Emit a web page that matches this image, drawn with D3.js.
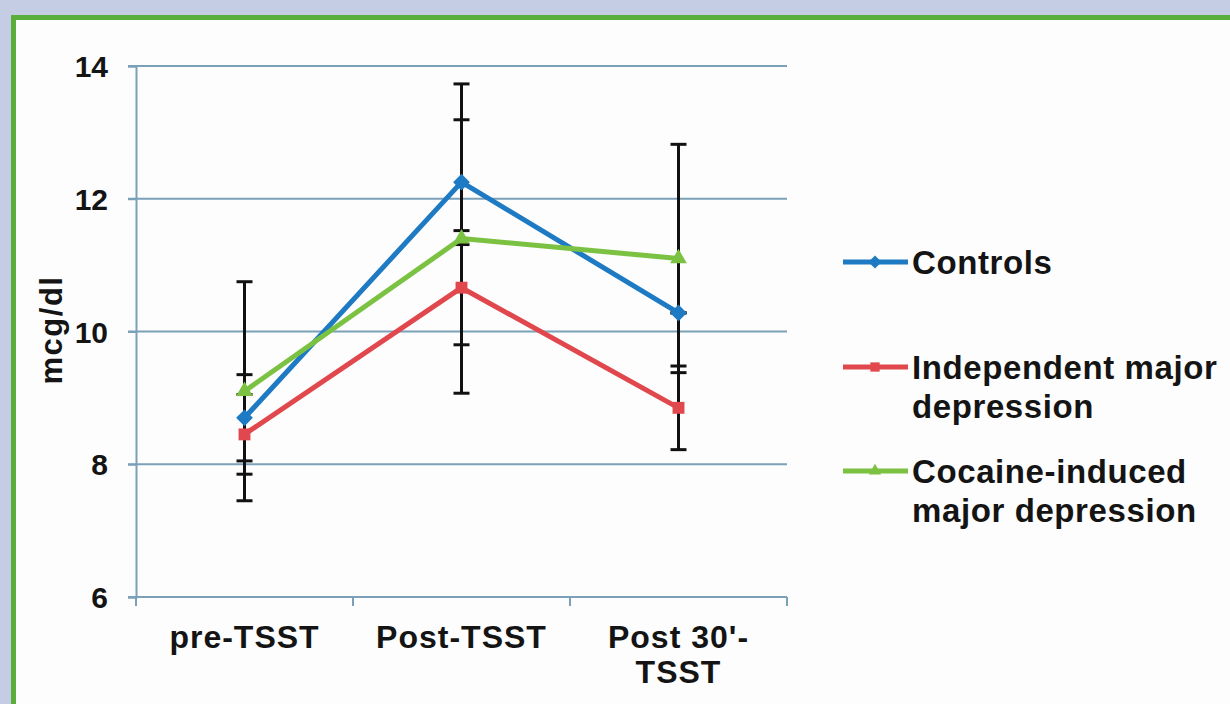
<!DOCTYPE html>
<html><head><meta charset="utf-8">
<script src="https://cdn.jsdelivr.net/npm/d3@7"></script>
<style>html,body{margin:0;padding:0;background:#c5cde5;}svg{display:block;}</style>
</head><body>
<script>
const categories = ["pre-TSST", "Post-TSST", "Post 30'-TSST"];
const categoryLines = [["pre-TSST"], ["Post-TSST"], ["Post 30'-", "TSST"]];
const seriesNames = ["Controls", "Independent major depression", "Cocaine-induced major depression"];
const legendLines = [["Controls"], ["Independent major", "depression"], ["Cocaine-induced", "major depression"]];
const controls = [8.7, 12.25, 10.28];
const independent = [8.45, 10.66, 8.85];
const cocaine = [9.1, 11.4, 11.1];
const errControls = [0.65, 0.94, 0];
const errIndependent = [0.6, 0.86, 0.63];
const errCocaine = [1.65, 2.33, 1.72];
const yTicks = [6, 8, 10, 12, 14];
const yTitle = "mcg/dl";

const colors = ["#1e7bc3", "#e0484d", "#7cc242"];
const shapes = [d3.symbolDiamond2, d3.symbolSquare2, d3.symbolTriangle2];
const series = [
  {name: seriesNames[0], values: controls, err: errControls},
  {name: seriesNames[1], values: independent, err: errIndependent},
  {name: seriesNames[2], values: cocaine, err: errCocaine}
];

const W = 1230, H = 704;
const svg = d3.select("body").append("svg").attr("width", W).attr("height", H);
svg.append("rect").attr("width", W).attr("height", H).attr("fill", "#c5cde5");
svg.append("rect").attr("x", 11).attr("y", 15).attr("width", W - 11).attr("height", H - 15).attr("fill", "#5aae3c");
svg.append("rect").attr("x", 16).attr("y", 20).attr("width", W - 16).attr("height", H - 20).attr("fill", "#fdfdfd");

const x = d3.scaleBand().domain(categories).range([136, 787]);
const cx = c => x(c) + x.bandwidth() / 2;
const y = d3.scaleLinear().domain([6, 14]).range([597, 66]);
const axisColor = "#7aa1b8";
const font = "'Liberation Sans', Arial, sans-serif";
const ink = "#141414";

// gridlines
const grid = svg.append("g");
grid.selectAll("line").data(yTicks.filter(t => t > 6)).join("line")
  .attr("x1", 128).attr("x2", 787).attr("y1", d => y(d)).attr("y2", d => y(d))
  .attr("stroke", axisColor).attr("stroke-width", 2);

// y axis
const yAxis = svg.append("g").attr("transform", "translate(136,0)")
  .call(d3.axisLeft(y).tickValues(yTicks).tickSize(8).tickPadding(20).tickFormat(d3.format("d")));
yAxis.select(".domain").attr("stroke", axisColor).attr("stroke-width", 2);
yAxis.selectAll(".tick line").attr("stroke", axisColor).attr("stroke-width", 2);
yAxis.selectAll(".tick text").attr("font-family", font).attr("font-weight", "bold")
  .attr("font-size", 30).attr("fill", ink).attr("dy", "0.35em");

// x axis
const xAxis = svg.append("g").attr("transform", "translate(0,597)")
  .call(d3.axisBottom(x).tickSize(0).tickFormat(""));
xAxis.select(".domain").attr("stroke", axisColor).attr("stroke-width", 2).attr("d", "M128,0H787");
const xt = [136].concat(categories.map(c => x(c) + x.bandwidth()));
svg.append("g").selectAll("line").data(xt).join("line")
  .attr("x1", d => d).attr("x2", d => d).attr("y1", 597).attr("y2", 606)
  .attr("stroke", axisColor).attr("stroke-width", 2);
const xl = svg.append("g");
categories.forEach((c, i) => {
  const t = xl.append("text").attr("x", cx(c)).attr("y", 648).attr("text-anchor", "middle")
    .attr("font-family", font).attr("font-weight", "bold").attr("font-size", 32)
    .attr("letter-spacing", 1).attr("fill", ink);
  categoryLines[i].forEach((ln, j) => t.append("tspan").attr("x", cx(c)).attr("dy", j === 0 ? 0 : 35).text(ln));
});

// y title
svg.append("text").attr("transform", "translate(62,330) rotate(-90)").attr("text-anchor", "middle")
  .attr("font-family", font).attr("font-weight", "bold").attr("font-size", 31)
  .attr("letter-spacing", 1.5).attr("fill", ink).text(yTitle);

// error bars
const eb = svg.append("g");
series.forEach(s => {
  s.values.forEach((v, i) => {
    const e = s.err[i];
    const px = cx(categories[i]);
    eb.append("line").attr("x1", px).attr("x2", px).attr("y1", y(v - e)).attr("y2", y(v + e))
      .attr("stroke", "#111").attr("stroke-width", 3);
    [v - e, v + e].forEach(b => eb.append("line").attr("x1", px - 8).attr("x2", px + 8)
      .attr("y1", y(b)).attr("y2", y(b)).attr("stroke", "#111").attr("stroke-width", 3));
  });
});

// lines and markers
const line = d3.line().x((d, i) => cx(categories[i])).y(d => y(d));
series.forEach((s, k) => {
  svg.append("path").attr("d", line(s.values)).attr("fill", "none")
    .attr("stroke", colors[k]).attr("stroke-width", 5).attr("stroke-linejoin", "round");
});
series.forEach((s, k) => {
  svg.append("g").selectAll("path").data(s.values).join("path")
    .attr("transform", (d, i) => `translate(${cx(categories[i])},${y(d)})`)
    .attr("d", d3.symbol().type(shapes[k]).size(k === 2 ? 200 : 180)).attr("fill", colors[k]);
});

// legend
const legY = [262, 367, 471];
const leg = svg.append("g");
series.forEach((s, k) => {
  leg.append("line").attr("x1", 843).attr("x2", 908).attr("y1", legY[k]).attr("y2", legY[k])
    .attr("stroke", colors[k]).attr("stroke-width", 5);
  leg.append("path").attr("transform", `translate(875,${legY[k]})`)
    .attr("d", d3.symbol().type(shapes[k]).size(110)).attr("fill", colors[k]);
  const t = leg.append("text").attr("x", 912).attr("y", legY[k] + 12)
    .attr("font-family", font).attr("font-weight", "bold").attr("font-size", 33)
    .attr("letter-spacing", 0.6).attr("fill", ink);
  legendLines[k].forEach((ln, j) => t.append("tspan").attr("x", 912).attr("dy", j === 0 ? 0 : 39).text(ln));
});
</script>
</body></html>
